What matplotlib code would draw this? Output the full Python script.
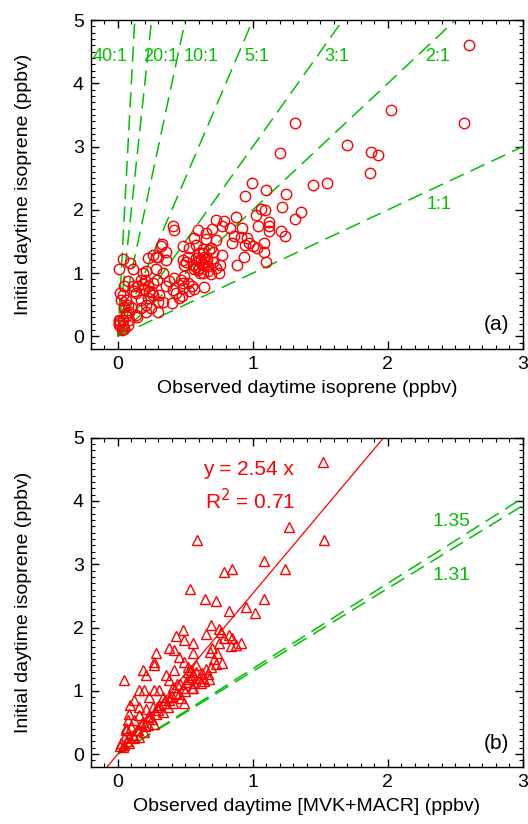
import numpy as np
import matplotlib
matplotlib.use("Agg")
from matplotlib import pyplot as plt
from matplotlib.ticker import MultipleLocator

plt.rcParams['font.family'] = ['Liberation Sans', 'DejaVu Sans']

# panel (a): observed daytime isoprene vs initial daytime isoprene
iso_obs = [2.597, 2.565, 2.022, 1.313, 1.70, 1.872, 1.923, 1.867, 1.202, 1.548, 1.447,
           0.993, 1.096, 1.244, 0.938,
           1.215, 1.356, 1.309, 1.059, 1.091, 1.022, 0.874, 0.726, 0.783, 1.121, 1.121,
           1.04, 0.919, 0.83, 0.775, 0.412, 0.417, 0.59, 0.696, 1.21, 1.121, 1.24, 0.862,
           0.652, 0.565, 0.652, 0.726, 0.96, 0.911, 0.973, 0.998, 1.027, 0.943, 0.849,
           1.084, 1.084, 0.936, 1.096, 0.886, 0.775, 0.691, 0.672, 0.706, 0.627, 0.627,
           0.598, 0.578, 0.615, 0.652, 0.64, 0.664, 0.602, 0.565, 0.664, 0.627, 0.59,
           0.553, 0.516, 0.504, 0.484, 0.491, 0.528, 0.486, 0.578, 0.746, 0.726, 0.756,
           0.706, 0.689, 0.635, 0.548, 0.563, 0.491, 0.467, 0.484, 0.474, 0.40, 0.331,
           0.306, 0.405, 0.356, 0.38, 0.417, 0.479, 0.528, 0.43, 0.331, 0.356, 0.36,
           0.319, 0.326, 0.294, 0.281, 0.289, 0.257, 0.22, 0.232, 0.257, 0.22, 0.195,
           0.183, 0.202, 0.212, 0.22, 0.257, 0.281, 0.183, 0.17, 0.146, 0.133, 0.17,
           0.207, 0.244, 0.294, 0.207, 0.17, 0.133, 0.084, 0.072, 0.059, 0.035, 0.015,
           0.047, 0.072, 0.121, 0.109, 0.089, 0.109, 0.035, 0.005, 0.022, 0.047, 0.059,
           0.035, 0.01, 0.005, 0.01, 0.035, 0.072, 0.005, 0.03, 0.047, 0.059, 0.084,
           0.096, 0.62, 0.60, 0.64, 0.58, 0.66, 0.61, 0.25, 0.30, 0.14, 0.45, 0.52]
iso_init = [4.61, 3.365, 3.58, 3.365, 3.03, 2.91, 2.865, 2.58, 2.90, 2.42, 2.39,
            2.42, 2.31, 2.25, 2.22,
            2.04, 1.96, 1.86, 2.01, 1.99, 1.92, 1.89, 1.84, 1.83, 1.80, 1.74,
            1.74, 1.72, 1.71, 1.74, 1.74, 1.68, 1.68, 1.69, 1.67, 1.66, 1.59, 1.59,
            1.63, 1.55, 1.54, 1.53, 1.55, 1.57, 1.47, 1.42, 1.39, 1.45, 1.47,
            1.47, 1.34, 1.26, 1.18, 1.13, 1.29, 1.39, 1.36, 1.34, 1.38, 1.32,
            1.31, 1.24, 1.21, 1.18, 1.13, 1.11, 1.08, 1.06, 1.03, 1.00, 1.05,
            1.13, 1.26, 1.18, 1.21, 1.12, 1.39, 1.42, 1.45, 1.00, 1.08, 1.12,
            1.18, 0.99, 0.78, 0.79, 0.75, 0.95, 0.89, 0.76, 0.63, 0.53, 0.55,
            0.66, 0.74, 0.79, 0.87, 0.92, 0.84, 0.71, 0.68, 1.00, 1.21, 1.34,
            1.42, 1.46, 1.26, 1.06, 0.89, 0.84, 0.79, 0.71, 0.66, 0.61, 0.75,
            0.82, 0.89, 1.03, 1.24, 1.29, 1.25, 1.00, 0.89, 0.79, 0.68, 0.58,
            0.50, 0.45, 0.39, 0.39, 0.45, 0.34, 0.39, 0.50, 0.58, 0.66, 0.68,
            0.79, 0.87, 0.71, 0.79, 1.16, 1.06, 1.22, 1.06, 0.58, 0.47, 0.32,
            0.26, 0.24, 0.21, 0.18, 0.16, 0.18, 0.26, 0.105, 0.12, 0.37, 0.26,
            0.47, 1.15, 1.20, 1.25, 1.10, 1.22, 1.00, 0.70, 0.55, 0.30, 0.60, 0.85]

# panel (b): observed daytime [MVK+MACR] vs initial daytime isoprene
mvk_obs = [1.516, 1.528, 0.585, 1.269, 1.084, 1.240, 0.849, 0.783, 0.533, 0.647, 0.726,
           1.084, 0.825, 0.948, 1.017, 0.689, 0.652, 0.751, 0.763, 0.825, 0.849, 0.788,
           0.911, 0.874, 0.837, 0.751, 0.696, 0.681, 0.738, 0.714, 0.775, 0.726, 0.689,
           0.652, 0.664, 0.627, 0.615, 0.677, 0.479, 0.43, 0.491, 0.553, 0.38, 0.417,
           0.454, 0.491, 0.553, 0.516, 0.541, 0.578, 0.541, 0.504, 0.565, 0.553, 0.479,
           0.405, 0.38, 0.356, 0.417, 0.43, 0.467, 0.491, 0.38, 0.331, 0.306, 0.269,
           0.281, 0.269, 0.269, 0.183, 0.212, 0.195, 0.232, 0.306, 0.257, 0.207, 0.158,
           0.158, 0.22, 0.281, 0.331, 0.368, 0.405, 0.121, 0.17, 0.22, 0.269, 0.096,
           0.146, 0.195, 0.059, 0.084, 0.047, 0.022, 0.047, 0.015, 0.035, 0.084, 0.121,
           0.158, 0.047, 0.089, 0.084, 0.072, 0.06, 0.158, 0.121, 0.52, 0.56, 0.60,
           0.58, 0.50, 0.45, 0.40, 0.35, 0.30, 0.25, 0.20, 0.46, 0.53, 0.62, 0.64,
           0.55, 0.44, 0.39, 0.34, 0.29, 0.24, 0.19, 0.14, 0.11, 0.07]
mvk_init = [4.62, 3.38, 3.38, 3.59, 3.05, 2.92, 2.93, 2.88, 2.61, 2.45, 2.42,
            2.45, 2.26, 2.32, 2.23, 2.04, 1.905, 1.97, 1.93, 1.88, 1.84, 1.83,
            1.75, 1.72, 1.705, 1.75, 1.68, 1.62, 1.59, 1.51, 1.44, 1.42, 1.38,
            1.35, 1.26, 1.21, 1.12, 1.18, 1.96, 1.86, 1.80, 1.76, 1.68, 1.64,
            1.54, 1.46, 1.59, 1.38, 1.33, 1.41, 1.22, 1.14, 1.12, 1.04, 1.04,
            1.06, 1.17, 1.25, 1.33, 0.96, 0.88, 0.80, 0.85, 0.905, 1.01, 1.01,
            1.59, 1.46, 1.41, 1.33, 1.25, 1.01, 0.905, 0.77, 0.75, 0.72, 0.75,
            0.62, 0.59, 0.64, 0.67, 0.75, 0.80, 0.54, 0.48, 0.46, 0.48, 0.43,
            0.38, 0.35, 0.38, 0.27, 0.25, 0.17, 0.14, 0.12, 0.105, 0.17, 0.25,
            0.27, 1.17, 0.77, 0.64, 0.54, 0.41, 1.01, 0.85, 1.30, 1.25, 1.20,
            1.30, 1.00, 0.95, 0.92, 0.85, 0.70, 0.55, 0.45, 1.10, 1.18, 1.28, 1.15,
            1.05, 1.10, 0.90, 0.80, 0.75, 0.60, 0.50, 0.38, 0.30, 0.20]

ratios = [40, 20, 10, 5, 3, 2, 1]
ratio_labels = ["40:1", "20:1", "10:1", "5:1", "3:1", "2:1", "1:1"]
ratio_label_x = [-0.06, 0.32, 0.62, 1.03, 1.62, 2.37, 2.38]
ratio_label_y = [4.42, 4.42, 4.42, 4.42, 4.42, 4.42, 2.08]

fit_slope = 2.54
ref_slopes = [1.35, 1.31]
ref_label_y = [3.67, 2.83]

green = "#00C000"
dash = (0, (10, 5))

fig = plt.figure(figsize=(5.28, 8.24), dpi=100)
ax1 = fig.add_axes([0.172, 0.5765, 0.8185, 0.3992])
ax2 = fig.add_axes([0.172, 0.0695, 0.8185, 0.3993])

xx = np.array([0, 3.0])
for r in ratios:
    ax1.plot(xx, r * xx, color=green, lw=1.1, ls=dash)
for lab, lx, ly in zip(ratio_labels, ratio_label_x, ratio_label_y):
    ax1.text(lx, ly, lab, color=green, fontsize=13, ha="center", va="center")
ax1.plot(iso_obs, iso_init, ls="none", marker="o", ms=7.5, mfc="none", mec="red", mew=1.0)
ax1.text(2.9, 0.18, "(a)", fontsize=15, ha="right", va="center")
ax1.set_xlabel("Observed daytime isoprene (ppbv)", fontsize=14, labelpad=5)

xf = np.array([-0.2, 5.0 / fit_slope])
ax2.plot(xf, fit_slope * xf, color="red", lw=0.9)
for s in ref_slopes:
    ax2.plot(xx, s * xx, color=green, lw=1.1, ls=dash)
for s, ly in zip(ref_slopes, ref_label_y):
    ax2.text(2.47, ly, "%.2f" % s, color=green, fontsize=14, ha="center", va="center")
ax2.plot(mvk_obs, mvk_init, ls="none", marker="^", ms=7.5, mfc="none", mec="red", mew=1.0)
ax2.text(0.97, 4.5, "y = %.2f x" % fit_slope, color="red", fontsize=15, ha="center", va="center")
ax2.text(0.645, 4.01, "R$^2$ = 0.71", color="red", fontsize=15, ha="left", va="center")
ax2.text(2.9, 0.17, "(b)", fontsize=15, ha="right", va="center")
ax2.set_xlabel("Observed daytime [MVK+MACR] (ppbv)", fontsize=14, labelpad=5)

for ax in (ax1, ax2):
    ax.set_xlim(-0.2, 3)
    ax.set_ylim(-0.2, 5)
    ax.xaxis.set_major_locator(MultipleLocator(1))
    ax.yaxis.set_major_locator(MultipleLocator(1))
    ax.xaxis.set_minor_locator(MultipleLocator(0.1))
    ax.yaxis.set_minor_locator(MultipleLocator(0.1))
    ax.tick_params(which="both", direction="in", top=True, right=True, labelsize=14)
    ax.tick_params(which="major", length=6, width=1, pad=5)
    ax.tick_params(which="minor", length=3, width=0.8)
    ax.set_ylabel("Initial daytime isoprene (ppbv)", fontsize=14)
    ax.yaxis.set_label_coords(-0.135, 0.5)
    for sp in ax.spines.values():
        sp.set_linewidth(1.0)

fig.savefig("out.png", dpi=100)
